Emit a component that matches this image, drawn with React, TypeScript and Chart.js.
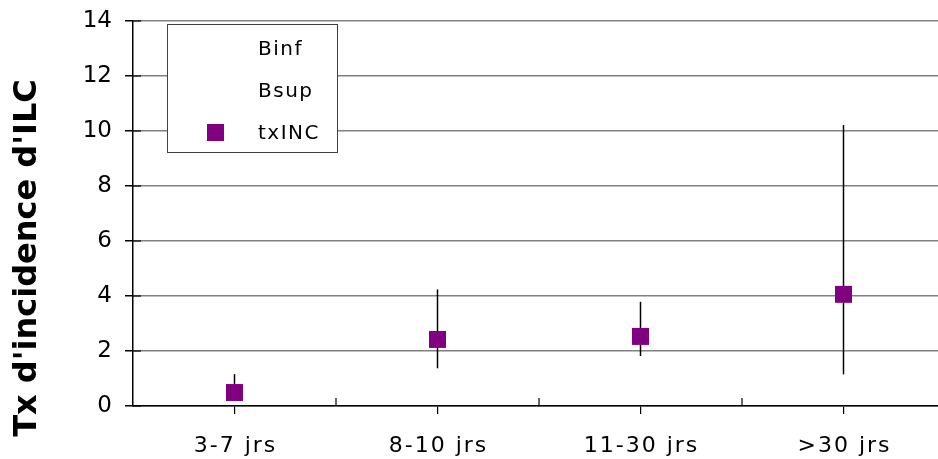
import React, { useEffect, useRef } from "react";
import { Chart, registerables } from "chart.js";

Chart.register(...registerables);

const categories = ["3-7 jrs", "8-10 jrs", "11-30 jrs", ">30 jrs"];
const binf = [0.3, 1.37, 1.82, 1.15];
const bsup = [1.16, 4.24, 3.79, 10.22];
const txINC = [0.49, 2.42, 2.53, 4.06];
const legendLabels = ["Binf", "Bsup", "txINC"];
const yTitle = "Tx d'incidence d'ILC";

const FONT = "'DejaVu Sans', Verdana, sans-serif";
const PURPLE = "#800080";

const customPlugin = {
  id: "custom",
  beforeDatasetsDraw(chart: any) {
    const ctx = chart.ctx;
    const xs = chart.scales.x;
    const ys = chart.scales.y;
    ctx.save();
    ctx.strokeStyle = "#000";
    ctx.lineWidth = 1.5;
    for (let i = 0; i < categories.length; i++) {
      const x = xs.getPixelForValue(i);
      ctx.beginPath();
      ctx.moveTo(x, ys.getPixelForValue(binf[i]));
      ctx.lineTo(x, ys.getPixelForValue(bsup[i]));
      ctx.stroke();
    }
    ctx.restore();
  },
  afterDraw(chart: any) {
    const ctx = chart.ctx;
    const xs = chart.scales.x;
    const ys = chart.scales.y;
    const area = chart.chartArea;
    ctx.save();
    // inner tick halves
    ctx.strokeStyle = "#000";
    ctx.lineWidth = 1.2;
    const n = categories.length;
    for (let i = 1; i <= n; i++) {
      const x = Math.round(area.left + (i * (area.right - area.left)) / n);
      ctx.beginPath();
      ctx.moveTo(x, area.bottom);
      ctx.lineTo(x, area.bottom - 8);
      ctx.stroke();
    }
    for (let v = 0; v <= 14; v += 2) {
      const y = ys.getPixelForValue(v);
      ctx.beginPath();
      ctx.moveTo(area.left, y);
      ctx.lineTo(area.left + 8, y);
      ctx.stroke();
    }
    // x labels
    ctx.fillStyle = "#000";
    ctx.font = "22px " + FONT;
    (ctx as any).letterSpacing = "2px";
    ctx.textAlign = "center";
    ctx.textBaseline = "alphabetic";
    categories.forEach((c, i) => {
      ctx.fillText(c, xs.getPixelForValue(i) + 1, 452);
    });
    // y title
    (ctx as any).letterSpacing = "0px";
    ctx.save();
    ctx.translate(28, 258);
    ctx.rotate(-Math.PI / 2);
    ctx.font = "bold 32px " + FONT;
    ctx.fillStyle = "#000";
    ctx.textAlign = "center";
    ctx.textBaseline = "middle";
    ctx.fillText(yTitle, 0, 0);
    ctx.restore();
    // legend
    const lx = 167, ly = 24, lw = 170, lh = 128;
    ctx.fillStyle = "#fff";
    ctx.fillRect(lx, ly, lw, lh);
    ctx.strokeStyle = "#404040";
    ctx.lineWidth = 1;
    ctx.strokeRect(lx + 0.5, ly + 0.5, lw, lh);
    ctx.font = "20px " + FONT;
    (ctx as any).letterSpacing = "1.5px";
    ctx.textAlign = "left";
    ctx.textBaseline = "alphabetic";
    const rows = [55, 97, 139];
    legendLabels.forEach((t, i) => {
      ctx.fillStyle = "#000";
      ctx.fillText(t, 258, rows[i]);
    });
    ctx.fillStyle = PURPLE;
    ctx.fillRect(207, 124, 17, 17);
    ctx.restore();
  },
};

export default function App() {
  const ref = useRef<HTMLCanvasElement>(null);
  useEffect(() => {
    if (!ref.current) return;
    const chart = new Chart(ref.current, {
      type: "line",
      data: {
        labels: categories,
        datasets: [
          { label: "Binf", data: binf, showLine: false, pointRadius: 0, borderColor: "transparent" },
          { label: "Bsup", data: bsup, showLine: false, pointRadius: 0, borderColor: "transparent" },
          {
            label: "txINC",
            data: txINC,
            showLine: false,
            pointStyle: "rect",
            pointRadius: 12,
            pointBackgroundColor: PURPLE,
            pointBorderWidth: 0,
            borderColor: PURPLE,
          },
        ],
      },
      options: {
        animation: false,
        responsive: false,
        maintainAspectRatio: false,
        devicePixelRatio: 1,
        layout: { autoPadding: false, padding: { top: 21, right: 0, left: 0, bottom: 0 } },
        plugins: { legend: { display: false }, tooltip: { enabled: false } },
        scales: {
          x: {
            type: "category",
            offset: true,
            grid: { drawOnChartArea: false, drawTicks: true, tickLength: 8, color: "#000", lineWidth: 1.2 },
            border: { color: "#000", width: 1.5 },
            ticks: { display: false, padding: 0 },
            afterFit: (s: any) => {
              s.height = 53;
              s.paddingLeft = 0; s.paddingRight = 0; s.paddingTop = 0; s.paddingBottom = 0;
            },
          },
          y: {
            min: 0,
            max: 14,
            ticks: { stepSize: 2, font: { family: FONT, size: 23 }, color: "#000", padding: 13 },
            grid: { color: "#808080", lineWidth: 1.5, tickLength: 8, tickColor: "#000" },
            border: { color: "#000", width: 1.5 },
            afterFit: (s: any) => {
              s.width = 133;
              s.paddingLeft = 0; s.paddingRight = 0; s.paddingTop = 0; s.paddingBottom = 0;
            },
          },
        },
      },
      plugins: [customPlugin],
    });
    return () => chart.destroy();
  }, []);
  return (
    <div style={{ position: "absolute", left: 0, top: 0, width: 938, height: 459, background: "#fff", overflow: "hidden" }}>
      <canvas ref={ref} width={945} height={459} style={{ display: "block" }} />
    </div>
  );
}
